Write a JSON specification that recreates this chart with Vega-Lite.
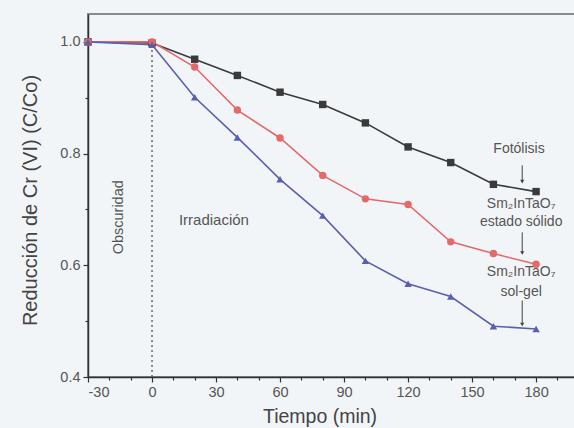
{
  "$schema": "https://vega.github.io/schema/vega-lite/v6.json",
  "autosize": "none",
  "width": 488,
  "height": 363,
  "padding": {"left": 88, "top": 14, "right": 0, "bottom": 51},
  "background": "#f2f5f8",
  "config": {
    "view": {"stroke": "#8a8a8a", "strokeWidth": 2, "fill": "#f2f5f8"},
    "font": "Liberation Sans",
    "axis": {
      "domainColor": "#333333",
      "domainWidth": 1.5,
      "tickColor": "#333333",
      "tickWidth": 1.2,
      "labelColor": "#555555",
      "labelFont": "Liberation Sans",
      "labelFontSize": 14.5,
      "titleFont": "Liberation Sans",
      "titleColor": "#444444",
      "titleFontWeight": "normal",
      "grid": false
    }
  },
  "datasets": {
    "series": [
      {"s": "Fotólisis", "t": -30, "v": 1.0},
      {"s": "Fotólisis", "t": 0, "v": 0.998},
      {"s": "Fotólisis", "t": 20, "v": 0.969},
      {"s": "Fotólisis", "t": 40, "v": 0.940},
      {"s": "Fotólisis", "t": 60, "v": 0.910},
      {"s": "Fotólisis", "t": 80, "v": 0.888},
      {"s": "Fotólisis", "t": 100, "v": 0.855},
      {"s": "Fotólisis", "t": 120, "v": 0.812},
      {"s": "Fotólisis", "t": 140, "v": 0.784},
      {"s": "Fotólisis", "t": 160, "v": 0.745},
      {"s": "Fotólisis", "t": 180, "v": 0.732},
      {"s": "Estado sólido", "t": -30, "v": 1.0},
      {"s": "Estado sólido", "t": 0, "v": 1.0},
      {"s": "Estado sólido", "t": 20, "v": 0.955},
      {"s": "Estado sólido", "t": 40, "v": 0.878},
      {"s": "Estado sólido", "t": 60, "v": 0.828},
      {"s": "Estado sólido", "t": 80, "v": 0.761},
      {"s": "Estado sólido", "t": 100, "v": 0.719},
      {"s": "Estado sólido", "t": 120, "v": 0.709},
      {"s": "Estado sólido", "t": 140, "v": 0.642},
      {"s": "Estado sólido", "t": 160, "v": 0.621},
      {"s": "Estado sólido", "t": 180, "v": 0.602},
      {"s": "Sol-gel", "t": -30, "v": 1.0},
      {"s": "Sol-gel", "t": 0, "v": 0.995},
      {"s": "Sol-gel", "t": 20, "v": 0.901},
      {"s": "Sol-gel", "t": 40, "v": 0.829},
      {"s": "Sol-gel", "t": 60, "v": 0.754},
      {"s": "Sol-gel", "t": 80, "v": 0.689},
      {"s": "Sol-gel", "t": 100, "v": 0.608},
      {"s": "Sol-gel", "t": 120, "v": 0.567},
      {"s": "Sol-gel", "t": 140, "v": 0.544},
      {"s": "Sol-gel", "t": 160, "v": 0.491},
      {"s": "Sol-gel", "t": 180, "v": 0.486}
    ],
    "labels": [
      {"label": "Irradiación", "t": 29, "v": 0.682, "fs": 15},
      {"label": "Fotólisis", "t": 172, "v": 0.808, "fs": 14},
      {"label": "Sm₂InTaO₇", "t": 173, "v": 0.709, "fs": 14},
      {"label": "estado sólido", "t": 173, "v": 0.678, "fs": 14},
      {"label": "Sm₂InTaO₇", "t": 173, "v": 0.588, "fs": 14},
      {"label": "sol-gel", "t": 173, "v": 0.553, "fs": 14}
    ],
    "arrows": [
      {"t": 173.5, "v": 0.779, "v2": 0.750},
      {"t": 173.5, "v": 0.659, "v2": 0.622},
      {"t": 173.5, "v": 0.537, "v2": 0.494}
    ]
  },
  "encoding": {
    "x": {
      "field": "t", "type": "quantitative",
      "scale": {"domain": [-30, 198.7], "nice": false, "zero": false},
      "axis": {
        "values": [-30, -20, -10, 0, 10, 20, 30, 40, 50, 60, 70, 80, 90, 100, 110, 120, 130, 140, 150, 160, 170, 180, 190],
        "labelExpr": "datum.value % 30 == 0 ? datum.value : ''",
        "tickSize": {"condition": {"test": "datum.value % 30 == 0", "value": 5}, "value": 3},
        "labelPadding": 3,
        "title": "Tiempo (min)",
        "titleFontSize": 19.5,
        "titleX": 231.5,
        "titleY": 45,
        "titleBaseline": "alphabetic"
      }
    },
    "y": {
      "field": "v", "type": "quantitative",
      "scale": {"domain": [0.4, 1.05], "nice": false, "zero": false},
      "axis": {
        "values": [0.4, 0.5, 0.6, 0.7, 0.8, 0.9, 1.0],
        "labelExpr": "abs(datum.value*10 % 2) < 0.01 || abs(datum.value*10 % 2 - 2) < 0.01 ? format(datum.value, '.1f') : ''",
        "tickSize": {"condition": {"test": "abs(datum.value*10 % 2) < 0.01 || abs(datum.value*10 % 2 - 2) < 0.01", "value": 5}, "value": 3},
        "labelPadding": 3,
        "title": "Reducción de Cr (VI)  (C/Co)",
        "titleFontSize": 20,
        "titleX": -52,
        "titleY": 186,
        "titleBaseline": "alphabetic",
        "titleAngle": 270
      }
    }
  },
  "layer": [
    {
      "data": {"values": [{"t": 0, "v": 0.4, "v2": 0.993}]},
      "mark": {"type": "rule", "color": "#555555", "strokeDash": [2, 3], "strokeWidth": 1.3},
      "encoding": {"y2": {"field": "v2"}}
    },
    {
      "data": {"name": "series"},
      "mark": {"type": "line", "strokeWidth": 1.6},
      "encoding": {
        "detail": {"field": "s"},
        "order": {"field": "t", "type": "quantitative"},
        "color": {
          "field": "s", "type": "nominal", "legend": null,
          "scale": {"domain": ["Fotólisis", "Estado sólido", "Sol-gel"], "range": ["#3a3a3a", "#e46a6a", "#5a5fb0"]}
        }
      }
    },
    {
      "data": {"name": "series"},
      "mark": {"type": "point", "filled": true, "opacity": 1, "size": 55},
      "encoding": {
        "color": {
          "field": "s", "type": "nominal", "legend": null,
          "scale": {"domain": ["Fotólisis", "Estado sólido", "Sol-gel"], "range": ["#111111", "#e0303a", "#2a2f8e"]}
        },
        "shape": {
          "field": "s", "type": "nominal", "legend": null,
          "scale": {"domain": ["Fotólisis", "Estado sólido", "Sol-gel"], "range": ["square", "circle", "triangle-up"]}
        }
      }
    },
    {
      "data": {"values": [{"label": "Obscuridad", "t": -15.3, "v": 0.686}]},
      "mark": {"type": "text", "angle": 270, "fontSize": 14.5, "color": "#555555", "font": "Liberation Sans"},
      "encoding": {"text": {"field": "label"}}
    },
    {
      "data": {"name": "labels"},
      "mark": {"type": "text", "color": "#555555", "font": "Liberation Sans"},
      "encoding": {"text": {"field": "label"}, "size": {"field": "fs", "type": "quantitative", "scale": null}}
    },
    {
      "data": {"name": "arrows"},
      "mark": {"type": "rule", "color": "#444444", "strokeWidth": 1},
      "encoding": {"y2": {"field": "v2"}}
    },
    {
      "data": {"name": "arrows"},
      "mark": {"type": "point", "shape": "triangle-down", "filled": true, "color": "#444444", "size": 18, "opacity": 1},
      "encoding": {"y": {"field": "v2", "type": "quantitative"}}
    }
  ]
}
